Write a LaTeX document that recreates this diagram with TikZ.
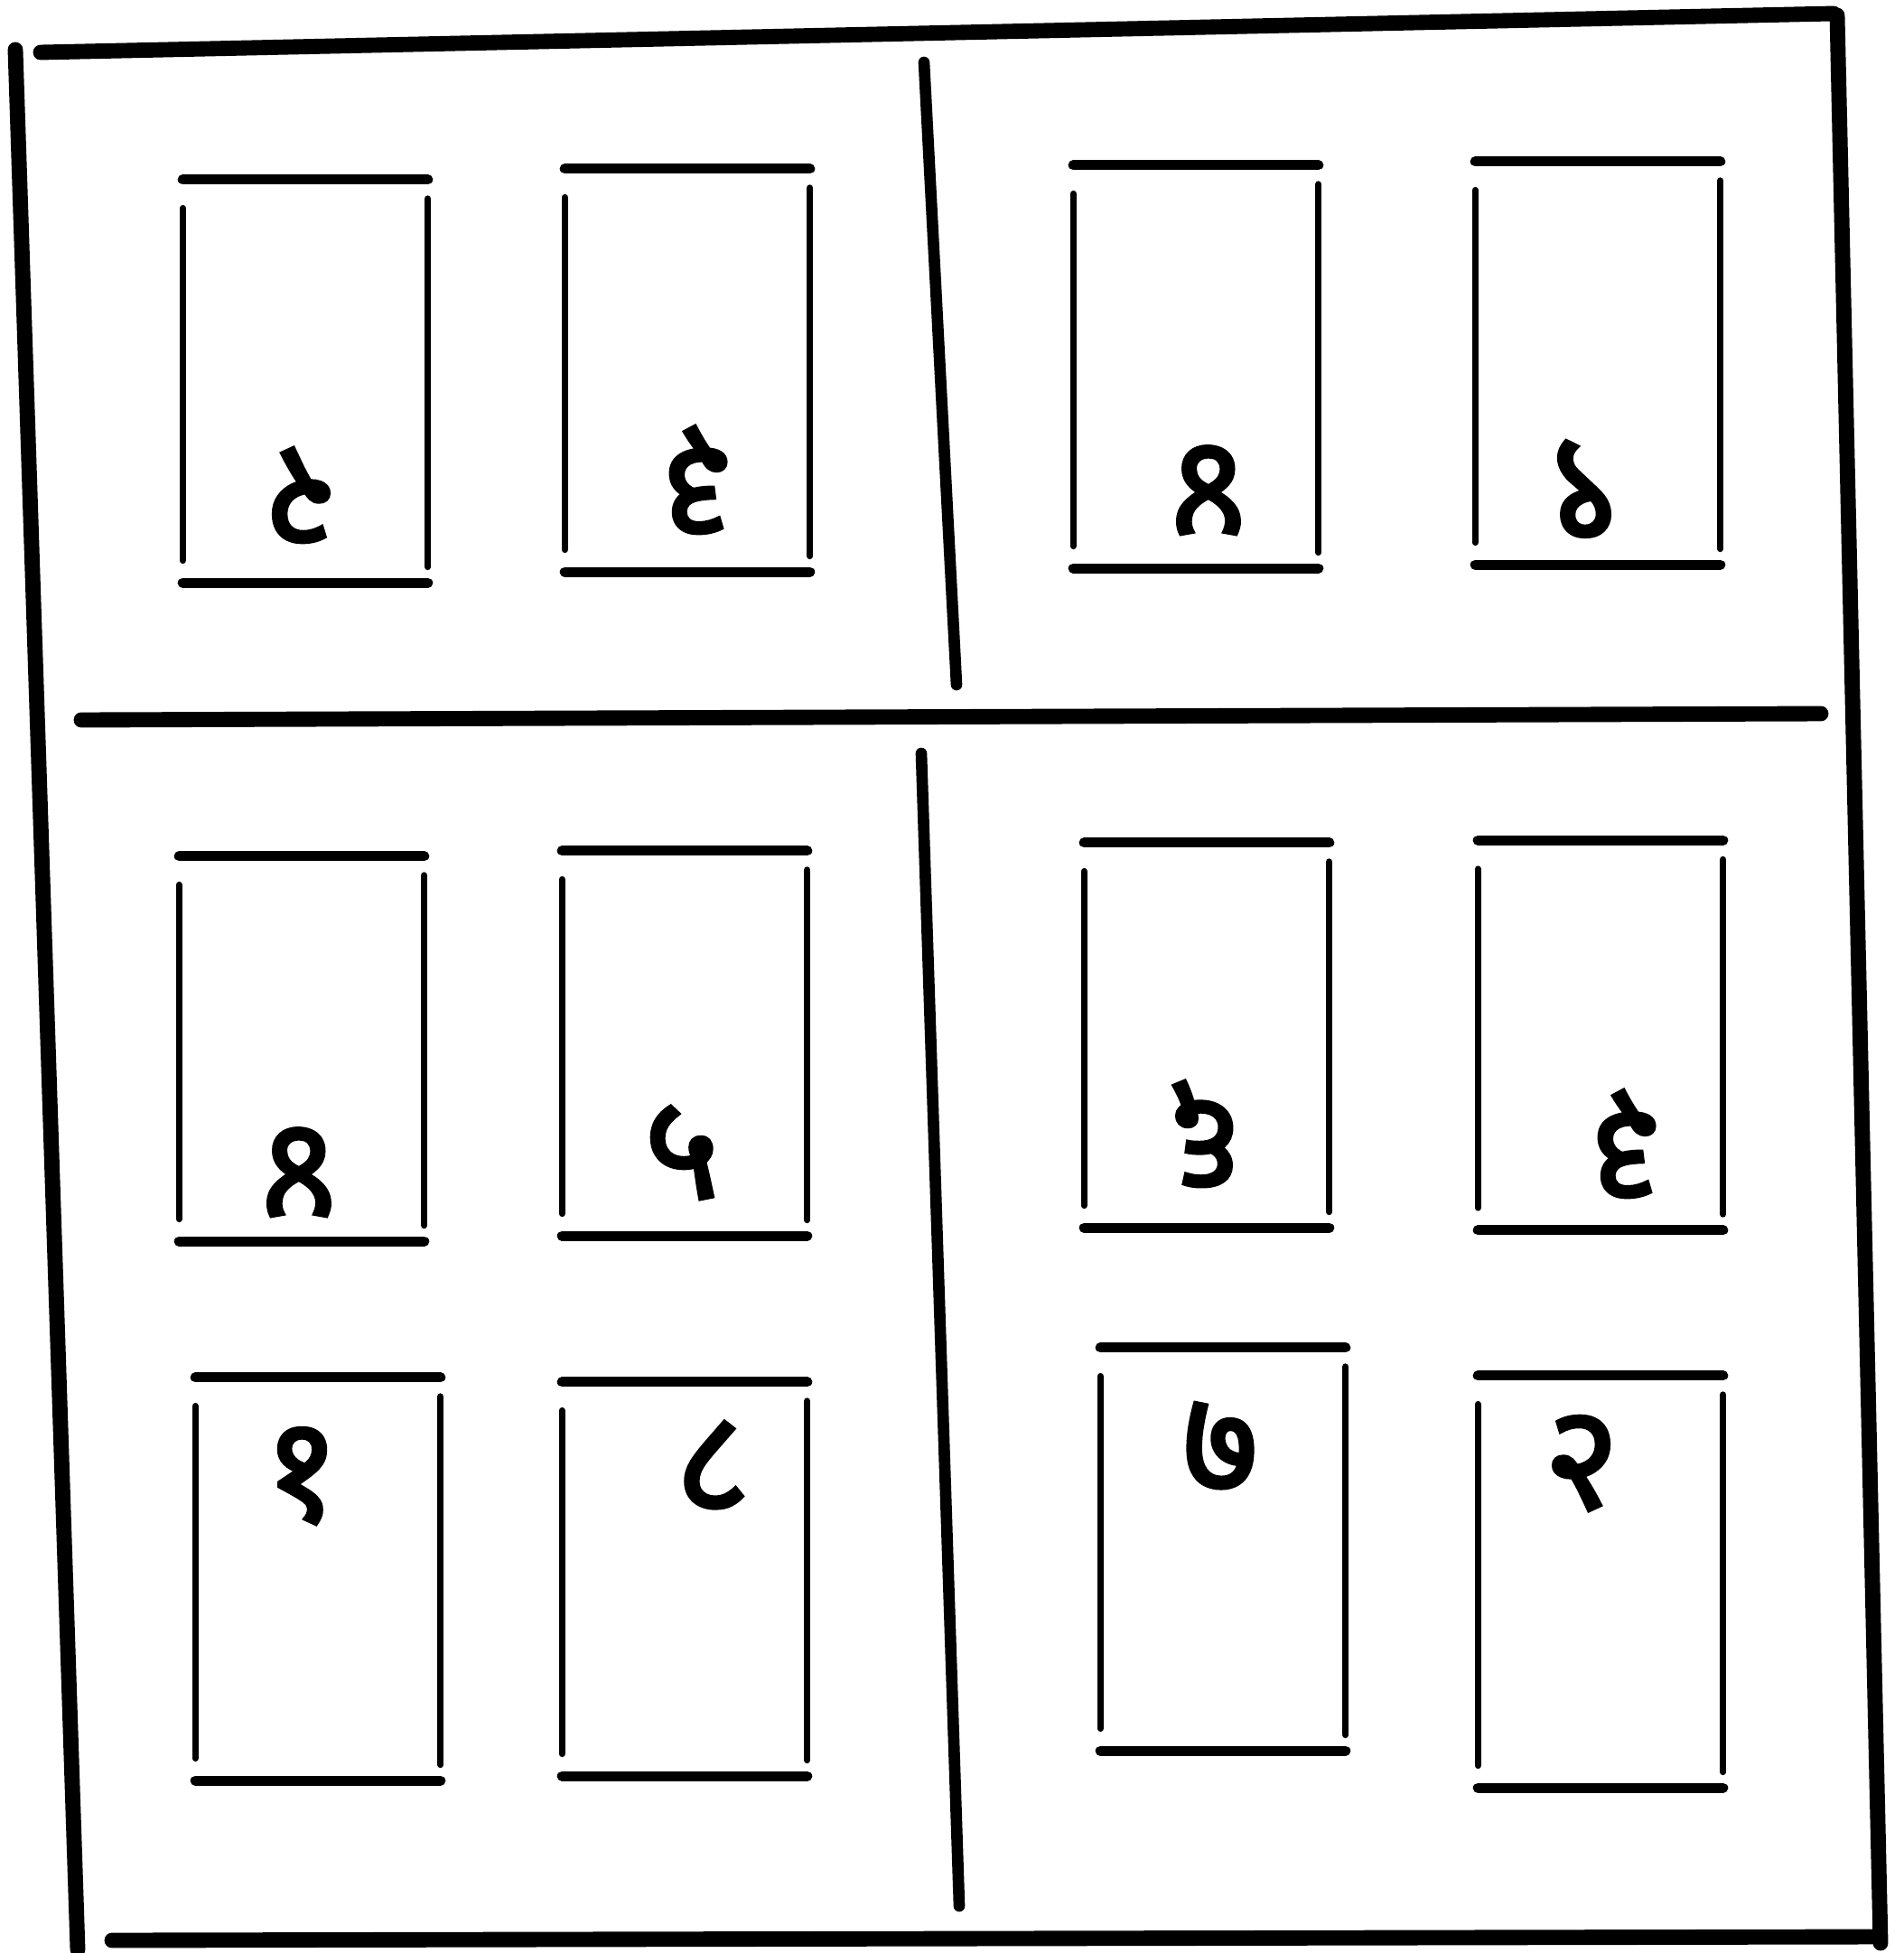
\documentclass[tikz,border=0pt]{standalone}
\usepackage{fontspec}
\usepackage{tikz}
\newfontfamily\devnum[Script=Devanagari, FakeBold=2.5]{Noto Sans}

\tikzset{
  card/.style={minimum width=2.7cm, minimum height=4.45cm, inner sep=0pt},
  cardedge/.style={line width=3.2pt, line cap=round},
  cardside/.style={line width=2pt, line cap=round},
  num/.style={font=\devnum\fontsize{46}{50}\selectfont, inner sep=0pt},
  frame/.style={line width=4.8pt, line cap=round},
  divider/.style={line width=3.6pt, line cap=round}
}

\begin{document}
\begin{tikzpicture}
  \useasboundingbox (0,0) rectangle (21.07,-21.62);

  % outer frame and dividers
  \draw[frame] (0.45,-0.58) -- (20.30,-0.15);
  \draw[frame] (0.17,-0.55) -- (0.86,-21.58);
  \draw[frame] (20.34,-0.17) -- (20.82,-21.51);
  \draw[frame] (1.24,-21.48) -- (20.75,-21.44);
  \draw[frame] (0.90,-7.97) -- (20.16,-7.90);
  \draw[divider] (10.23,-0.69) -- (10.59,-7.58);
  \draw[divider] (10.20,-8.34) -- (10.62,-21.10);

  % cards
  \node[card] (card11) at (3.38,-4.22) {};
  \node[card] (card12) at (7.61,-4.10) {};
  \node[card] (card13) at (13.24,-4.06) {};
  \node[card] (card14) at (17.69,-4.02) {};
  \node[card, minimum height=4.25cm] (card21) at (3.34,-11.61) {};
  \node[card, minimum height=4.25cm] (card22) at (7.58,-11.55) {};
  \node[card, minimum height=4.25cm] (card23) at (13.36,-11.46) {};
  \node[card, minimum height=4.3cm] (card24) at (17.72,-11.46) {};
  \node[card] (card31) at (3.52,-17.48) {};
  \node[card, minimum height=4.35cm] (card32) at (7.58,-17.48) {};
  \node[card] (card33) at (13.54,-17.15) {};
  \node[card, minimum height=4.55cm] (card34) at (17.72,-17.51) {};

  \foreach \c in {card11,card12,card13,card14,card21,card22,card23,card24,card31,card32,card33,card34} {
    \draw[cardedge] (\c.north west) -- (\c.north east);
    \draw[cardedge] (\c.south west) -- (\c.south east);
    \draw[cardside] ([yshift=-9pt]\c.north west) -- ([yshift=7pt]\c.south west);
    \draw[cardside] ([yshift=-6pt]\c.north east) -- ([yshift=5pt]\c.south east);
  }

  % numbers (most of the upper ones are upside down)
  \node[num, rotate=180] (n11) at (3.33,-5.48) {२};
  \node[num, rotate=180] (n12) at (7.72,-5.31) {३};
  \node[num, rotate=180] (n13) at (13.38,-5.41) {४};
  \node[num, rotate=180] (n14) at (17.54,-5.41) {९};
  \node[num, rotate=180] (n21) at (3.31,-12.96) {४};
  \node[num] (n22) at (7.55,-12.76) {५};
  \node[num, rotate=180] (n23) at (13.34,-12.55) {६};
  \node[num, rotate=180] (n24) at (18.00,-12.66) {३};
  \node[num] (n31) at (3.34,-16.34) {१};
  \node[num] (n32) at (7.89,-16.24) {८};
  \node[num] (n33) at (13.51,-16.03) {७};
  \node[num] (n34) at (17.51,-16.20) {२};
\end{tikzpicture}
\end{document}
